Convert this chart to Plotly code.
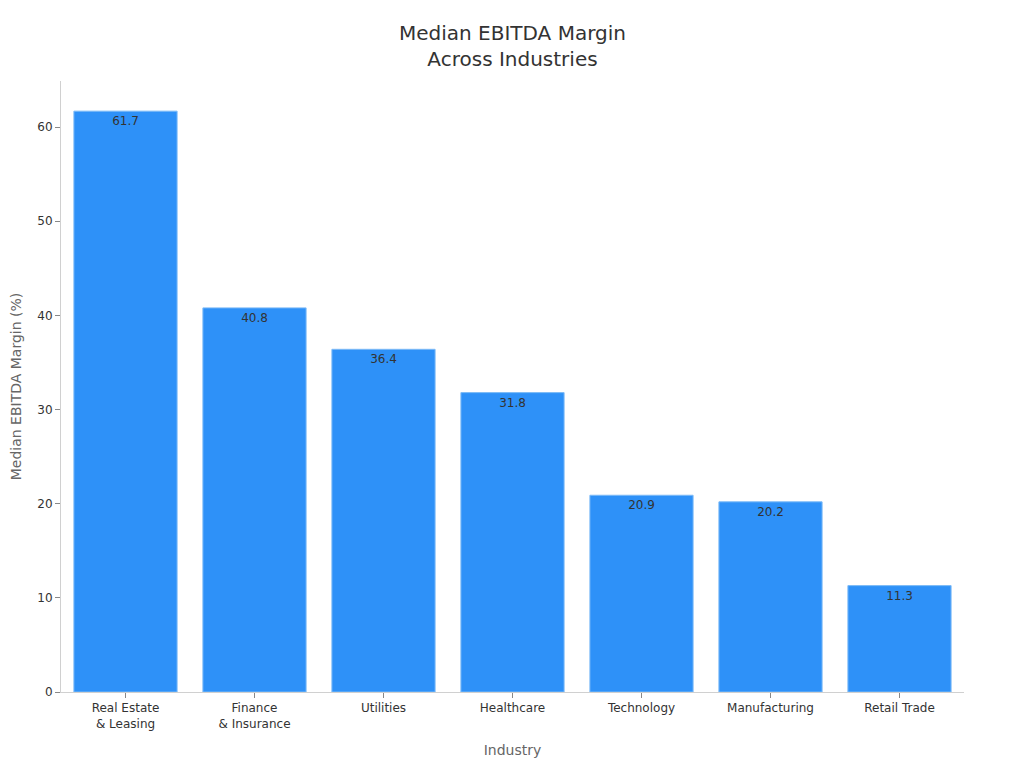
import plotly.graph_objects as go

industries = ["Real Estate<br>& Leasing", "Finance<br>& Insurance", "Utilities", "Healthcare",
              "Technology", "Manufacturing", "Retail Trade"]
margins = [61.7, 40.8, 36.4, 31.8, 20.9, 20.2, 11.3]

fig = go.Figure(go.Bar(
    x=industries,
    y=margins,
    text=[f"{v:.1f}" for v in margins],
    textposition="inside",
    insidetextanchor="end",
    textfont=dict(color="#333333", size=12),
    marker=dict(color="#2E91F8", line=dict(color="#7DBBF7", width=1)),
))

fig.update_layout(
    width=1024, height=768,
    font=dict(family="DejaVu Sans", color="#333333"),
    title=dict(text="Median EBITDA Margin<br>Across Industries", xref="paper", x=0.5, xanchor="center",
               y=0.958, font=dict(size=20, color="#333333")),
    plot_bgcolor="white", paper_bgcolor="white",
    margin=dict(l=53, r=68, t=73, b=84),
    bargap=0.2,
    showlegend=False,
)
fig.update_xaxes(
    title=dict(text="Industry", font=dict(size=14, color="#666666")),
    showline=True, linecolor="#d0d0d0", ticks="outside", tickcolor="#888888", ticklen=5,
    tickfont=dict(size=12), showgrid=False,
)
fig.update_yaxes(
    title=dict(text="Median EBITDA Margin (%)", font=dict(size=14, color="#666666")),
    range=[0, 64.9], dtick=10, automargin=False,
    showline=True, linecolor="#d0d0d0", ticks="outside", tickcolor="#888888", ticklen=5,
    tickfont=dict(size=12), showgrid=False, zeroline=False,
)

fig.write_html("out.html")
